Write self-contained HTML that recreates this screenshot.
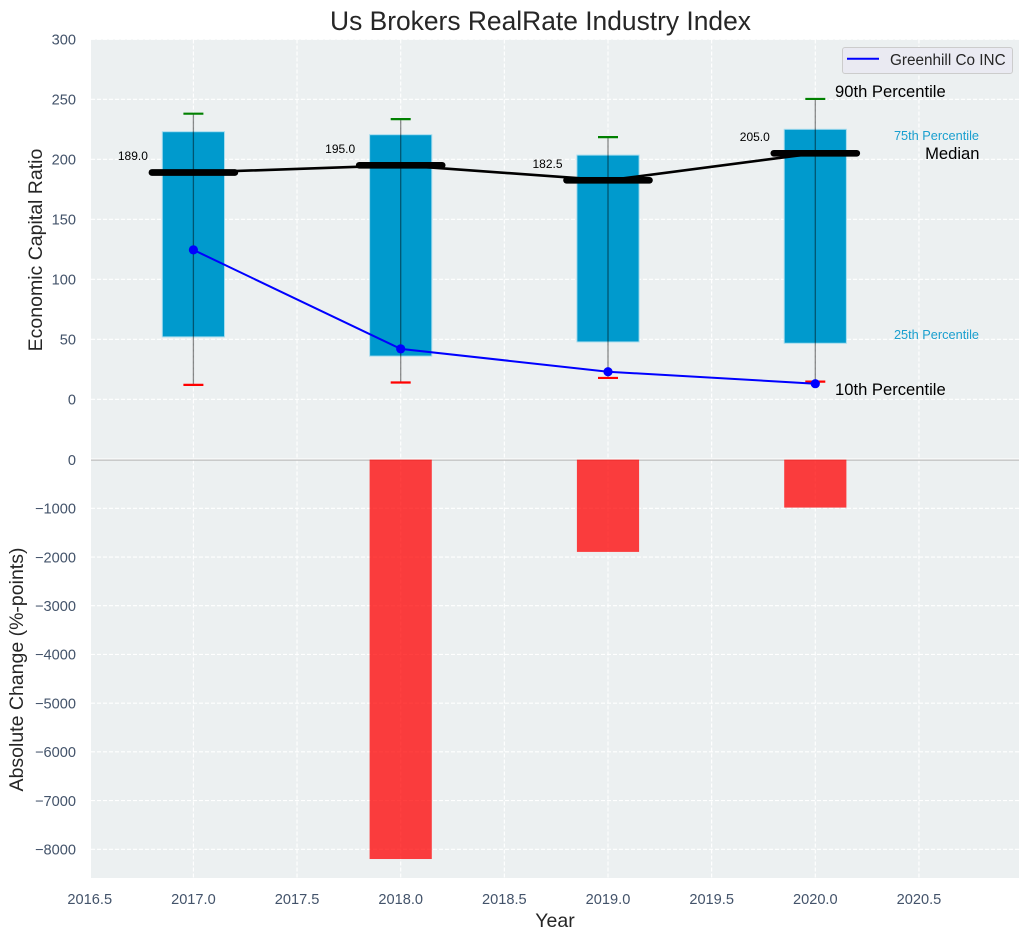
<!DOCTYPE html>
<html>
<head>
<meta charset="utf-8">
<title>Us Brokers RealRate Industry Index</title>
<style>
html,body{margin:0;padding:0;background:#fff;width:1029px;height:940px;overflow:hidden}
svg{display:block}
text{font-family:"Liberation Sans",Arial,sans-serif}
.tick{fill:#43536a;font-size:14.6px}
.axt{fill:#262626;font-size:19.5px}
.ann{fill:#000;font-size:16.6px}
.val{fill:#000;font-size:12px}
.pct{fill:#1a9fcf;font-size:12.75px}
</style>
</head>
<body>
<svg id="chart" width="1029" height="940" viewBox="0 0 1029 940" xmlns="http://www.w3.org/2000/svg">
  <rect x="91" y="39.5" width="928" height="419" fill="#ecf0f1"/>
  <rect x="91" y="459.5" width="928" height="418.5" fill="#ecf0f1"/>
  <g id="grid"></g>
  <g id="topMarks"></g>
  <g id="bottomMarks"></g>
  <g id="labels"></g>
  <text x="540.5" y="30" text-anchor="middle" font-size="26.4px" fill="#262626">Us Brokers RealRate Industry Index</text>
  <text class="axt" transform="translate(42 250) rotate(-90)" text-anchor="middle">Economic Capital Ratio</text>
  <text class="axt" transform="translate(23 669.5) rotate(-90)" text-anchor="middle">Absolute Change (%-points)</text>
  <text class="axt" x="555" y="927" text-anchor="middle">Year</text>
  <g>
    <rect x="842.5" y="47.5" width="170" height="26" rx="2.5" fill="#eaeaf2" stroke="#cccccc" stroke-width="1"/>
    <line x1="847" x2="879" y1="58.8" y2="58.8" stroke="#0000ff" stroke-width="2"/>
    <text x="890" y="65" font-size="15.3px" fill="#262626">Greenhill Co INC</text>
  </g>
  <text class="ann" x="835" y="97">90th Percentile</text>
  <text class="pct" x="979" y="140" text-anchor="end">75th Percentile</text>
  <text class="ann" x="979.5" y="159" text-anchor="end">Median</text>
  <text class="pct" x="979" y="339" text-anchor="end">25th Percentile</text>
  <text class="ann" x="835" y="395">10th Percentile</text>
</svg>
<script>
const years = [2017, 2018, 2019, 2020];
const p90 = [238, 233.5, 218.5, 250.3];
const p75 = [223, 220.5, 203.5, 225];
const median = [189, 195, 182.5, 205];
const p25 = [52, 36, 47.8, 46.7];
const p10 = [12, 14, 17.8, 14.7];
const company = [124.5, 42, 23, 13];
const change = [null, -8200, -1895, -985];
const medianLabels = ["189.0", "195.0", "182.5", "205.0"];
const xTicks = [2016.5, 2017, 2017.5, 2018, 2018.5, 2019, 2019.5, 2020, 2020.5];
const topTicks = [0, 50, 100, 150, 200, 250, 300];
const bottomTicks = [0, -1000, -2000, -3000, -4000, -5000, -6000, -7000, -8000];

const barWidth = 0.3;
const medianWidth = 0.4;

function xPos(v) { return 815.3 + (v - 2020) * 207.3; }
function yTop(v) { return 399.3 - v * 1.2; }
function yBottom(v) { return 459.6 - v * 0.04871; }

const NS = 'http://www.w3.org/2000/svg';
function mk(tag, parent) {
  const el = document.createElementNS(NS, tag);
  parent.appendChild(el);
  return el;
}
function setLine(el, x1, y1, x2, y2, color, w) {
  el.setAttribute('x1', x1);
  el.setAttribute('y1', y1);
  el.setAttribute('x2', x2);
  el.setAttribute('y2', y2);
  el.setAttribute('stroke', color);
  el.setAttribute('stroke-width', w);
}
function setRect(el, x, y, w, h, fill) {
  el.setAttribute('x', x);
  el.setAttribute('y', y);
  el.setAttribute('width', w);
  el.setAttribute('height', h);
  el.setAttribute('fill', fill);
}
function pathFrom(values, yFn) {
  return values.map((v, i) => (i ? 'L' : 'M') + xPos(years[i]) + ' ' + yFn(v)).join(' ');
}

const grid = document.getElementById('grid');
const topMarks = document.getElementById('topMarks');
const bottomMarks = document.getElementById('bottomMarks');
const labels = document.getElementById('labels');

xTicks.forEach(t => {
  if (xPos(t) < 91) return;
  const a = mk('line', grid);
  
  
  setLine(a, xPos(t), 39.5, xPos(t), 458.5, '#ffffff', 1.1);
  a.setAttribute('stroke-dasharray', '4 2');
  const b = mk('line', grid);
  
  
  setLine(b, xPos(t), 459.5, xPos(t), 878, '#ffffff', 1.1);
  b.setAttribute('stroke-dasharray', '4 2');
});
topTicks.forEach(t => {
  const l = mk('line', grid);
  
  
  setLine(l, 91, yTop(t), 1019, yTop(t), '#ffffff', 1.1);
  l.setAttribute('stroke-dasharray', '4 2');
  const s = mk('text', labels);
  
  
  s.setAttribute('class', 'tick');
  s.setAttribute('x', 76);
  s.setAttribute('y', yTop(t) + 5.3);
  s.setAttribute('text-anchor', 'end');
  s.textContent = String(t);
});
bottomTicks.forEach(t => {
  const s = mk('text', labels);
  
  
  s.setAttribute('class', 'tick');
  s.setAttribute('x', 76);
  s.setAttribute('y', yBottom(t) + 5.3);
  s.setAttribute('text-anchor', 'end');
  s.textContent = String(t).replace('-', '\u2212');
  if (t === 0) return;
  const l = mk('line', grid);
  
  
  setLine(l, 91, yBottom(t), 1019, yBottom(t), '#ffffff', 1.1);
  l.setAttribute('stroke-dasharray', '4 2');
});
xTicks.forEach(t => {
  const s = mk('text', labels);
  
  
  s.setAttribute('class', 'tick');
  s.setAttribute('x', xPos(t));
  s.setAttribute('y', 904);
  s.setAttribute('text-anchor', 'middle');
  s.textContent = t.toFixed(1);
});

const zero = mk('line', bottomMarks);


setLine(zero, 91, yBottom(0) + 0.5, 1019, yBottom(0) + 0.5, '#bdbdbd', 1.2);

const pxW = xPos(2017 + barWidth) - xPos(2017);
const pxM = xPos(2017 + medianWidth) - xPos(2017);

years.forEach((yr, i) => {
  const cx = xPos(yr);
  const bar = mk('rect', topMarks);
  
  
  setRect(bar, cx - pxW / 2, yTop(p75[i]), pxW, yTop(p25[i]) - yTop(p75[i]), '#009acd');
  bar.setAttribute('stroke', '#a6dcee');
  bar.setAttribute('stroke-width', '1');
});

const medianLine = mk('path', topMarks);


medianLine.setAttribute('d', pathFrom(median, yTop));
medianLine.setAttribute('fill', 'none');
medianLine.setAttribute('stroke', '#000000');
medianLine.setAttribute('stroke-width', '2.6');

years.forEach((yr, i) => {
  const cx = xPos(yr);
  const whisker = mk('line', topMarks);
  
  
  setLine(whisker, cx, yTop(p90[i]), cx, yTop(p10[i]), '#000000', 1.3);
  whisker.setAttribute('stroke-opacity', '0.45');
  const capHi = mk('line', topMarks);
  
  
  setLine(capHi, cx - 10, yTop(p90[i]), cx + 10, yTop(p90[i]), '#008000', 2.2);
  const capLo = mk('line', topMarks);
  
  
  setLine(capLo, cx - 10, yTop(p10[i]), cx + 10, yTop(p10[i]), '#ff0000', 2.2);
  const med = mk('line', topMarks);
  
  
  setLine(med, cx - pxM / 2, yTop(median[i]), cx + pxM / 2, yTop(median[i]), '#000000', 6.7);
  med.setAttribute('stroke-linecap', 'round');
  const val = mk('text', topMarks);
  
  
  val.setAttribute('class', 'val');
  val.setAttribute('x', cx - 45.5);
  val.setAttribute('y', yTop(median[i]) - 12.5);
  val.setAttribute('text-anchor', 'end');
  val.textContent = medianLabels[i];
});

const companyLine = mk('path', topMarks);


companyLine.setAttribute('d', pathFrom(company, yTop));
companyLine.setAttribute('fill', 'none');
companyLine.setAttribute('stroke', '#0000ff');
companyLine.setAttribute('stroke-width', '2');

years.forEach((yr, i) => {
  const dot = mk('circle', topMarks);
  
  
  dot.setAttribute('cx', xPos(yr));
  dot.setAttribute('cy', yTop(company[i]));
  dot.setAttribute('r', '4.6');
  dot.setAttribute('fill', '#0000ff');
  if (change[i] === null) return;
  const bar = mk('rect', bottomMarks);
  
  
  setRect(bar, xPos(yr) - pxW / 2, yBottom(0), pxW, yBottom(change[i]) - yBottom(0), '#ff0000');
  bar.setAttribute('fill-opacity', '0.75');
});
</script>
</body>
</html>
